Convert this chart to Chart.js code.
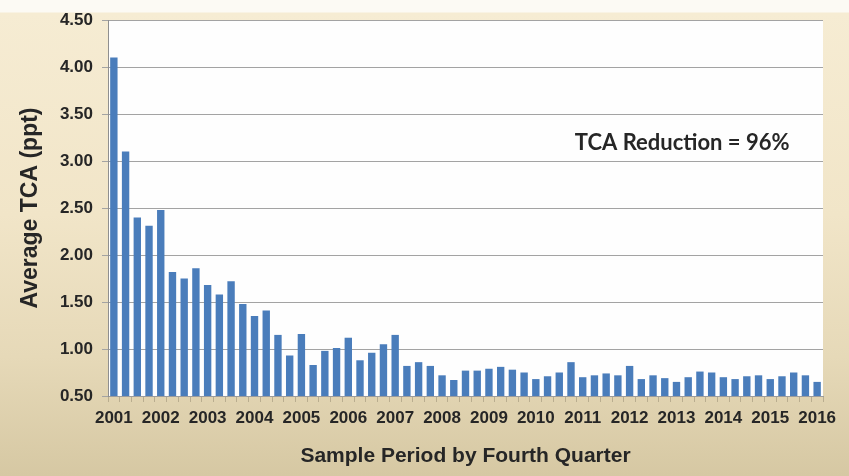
<!DOCTYPE html>
<html>
<head>
<meta charset="utf-8">
<script src="https://cdn.jsdelivr.net/npm/chart.js@4.4.1/dist/chart.umd.min.js"></script>
<style>
  html, body { margin: 0; padding: 0; }
  body {
    width: 849px; height: 476px; overflow: hidden;
    background:
      linear-gradient(180deg, #fcfaf4 0px, #fcfaf4 12px, #f6ecd3 13px, #f1e5c8 45%, #e6d9b8 75%, #d6c8a3 100%);
  }
  #wrap { position: relative; width: 849px; height: 476px; }
</style>
</head>
<body>
<div id="wrap"><canvas id="tca" width="849" height="476"></canvas></div>
<script>
  // years shown on the x axis (one label every 4 quarters)
  const yearLabels = ['2001', '2002', '2003', '2004', '2005', '2006', '2007', '2008',
                      '2009', '2010', '2011', '2012', '2013', '2014', '2015', '2016'];
  // quarterly samples, 2001 Q1 .. 2016 Q1
  const categories = yearLabels.flatMap(y => ['Q1', 'Q2', 'Q3', 'Q4'].map(q => y + ' ' + q)).slice(0, 61);

  // average TCA (ppt)
  const tcaValues = [
    4.10, 3.10, 2.40, 2.31, 2.48, 1.82, 1.75, 1.86,
    1.68, 1.58, 1.72, 1.48, 1.35, 1.41, 1.15, 0.93,
    1.16, 0.83, 0.98, 1.01, 1.12, 0.88, 0.96, 1.05,
    1.15, 0.82, 0.86, 0.82, 0.72, 0.67, 0.77, 0.77,
    0.79, 0.81, 0.78, 0.75, 0.68, 0.71, 0.75, 0.86,
    0.70, 0.72, 0.74, 0.72, 0.82, 0.68, 0.72, 0.69,
    0.65, 0.70, 0.76, 0.75, 0.70, 0.68, 0.71, 0.72,
    0.68, 0.71, 0.75, 0.72, 0.65
  ];

  const yTicks = [0.5, 1.0, 1.5, 2.0, 2.5, 3.0, 3.5, 4.0, 4.5];
  const noteText = 'TCA Reduction = 96%';

  const AXIS_FONT = "'Liberation Sans', Arial, sans-serif";
  const TEXT = '#262626';

  // white plot background + the reduction note
  const plotDecor = {
    id: 'plotDecor',
    beforeDraw(chart) {
      const { ctx, chartArea: a } = chart;
      ctx.save();
      ctx.fillStyle = '#fefefe';
      ctx.fillRect(a.left, a.top, a.right - a.left, a.bottom - a.top);
      ctx.restore();
    },
    afterDatasetsDraw(chart) {
      const { ctx, chartArea: a } = chart;
      ctx.save();
      ctx.font = "bold 22px Lato, 'Open Sans', sans-serif";
      ctx.fillStyle = TEXT;
      ctx.textAlign = 'center';
      ctx.textBaseline = 'middle';
      ctx.fillText(noteText, a.left + (a.right - a.left) * 0.803, 143);
      ctx.restore();
    }
  };

  new Chart(document.getElementById('tca'), {
    type: 'bar',
    data: {
      labels: categories,
      datasets: [{
        data: tcaValues,
        backgroundColor: '#4a7dbb',
        borderWidth: 0,
        barPercentage: 0.63,
        categoryPercentage: 1.0
      }]
    },
    options: {
      responsive: false,
      devicePixelRatio: 1,
      animation: false,
      layout: { padding: { top: 20, right: 26, left: 0, bottom: 0 } },
      plugins: { legend: { display: false }, tooltip: { enabled: false } },
      scales: {
        x: {
          offset: true,
          afterFit: s => { s.height = 80; },
          grid: { display: true, drawOnChartArea: false, drawTicks: true, tickLength: 6, color: '#b9ad8f', offset: true },
          border: { display: true, color: '#9c9c9c' },
          ticks: {
            autoSkip: false, maxRotation: 0, minRotation: 0, padding: 6,
            color: TEXT,
            font: { family: AXIS_FONT, size: 17, weight: 'bold' },
            callback: (v, i) => (i % 4 === 0 ? yearLabels[i / 4] : '')
          },
          title: {
            display: true, text: 'Sample Period by Fourth Quarter', color: TEXT,
            font: { family: AXIS_FONT, size: 21, weight: 'bold' },
            padding: { top: 0, bottom: 7 }
          }
        },
        y: {
          min: 0.5, max: 4.5,
          afterFit: s => { s.width = 108; },
          afterBuildTicks: s => { s.ticks = yTicks.map(v => ({ value: v })); },
          grid: { color: '#a3a3a3', lineWidth: 1, tickLength: 6, drawTicks: true },
          border: { display: true, color: '#8f8f8f' },
          ticks: {
            padding: 9, color: TEXT,
            font: { family: AXIS_FONT, size: 17, weight: 'bold' },
            callback: v => Number(v).toFixed(2)
          },
          title: {
            display: true, text: 'Average TCA (ppt)', color: TEXT,
            font: { family: AXIS_FONT, size: 23, weight: 'bold' },
            padding: { top: 17, bottom: 0 }
          }
        }
      }
    },
    plugins: [plotDecor]
  });
</script>
</body>
</html>
